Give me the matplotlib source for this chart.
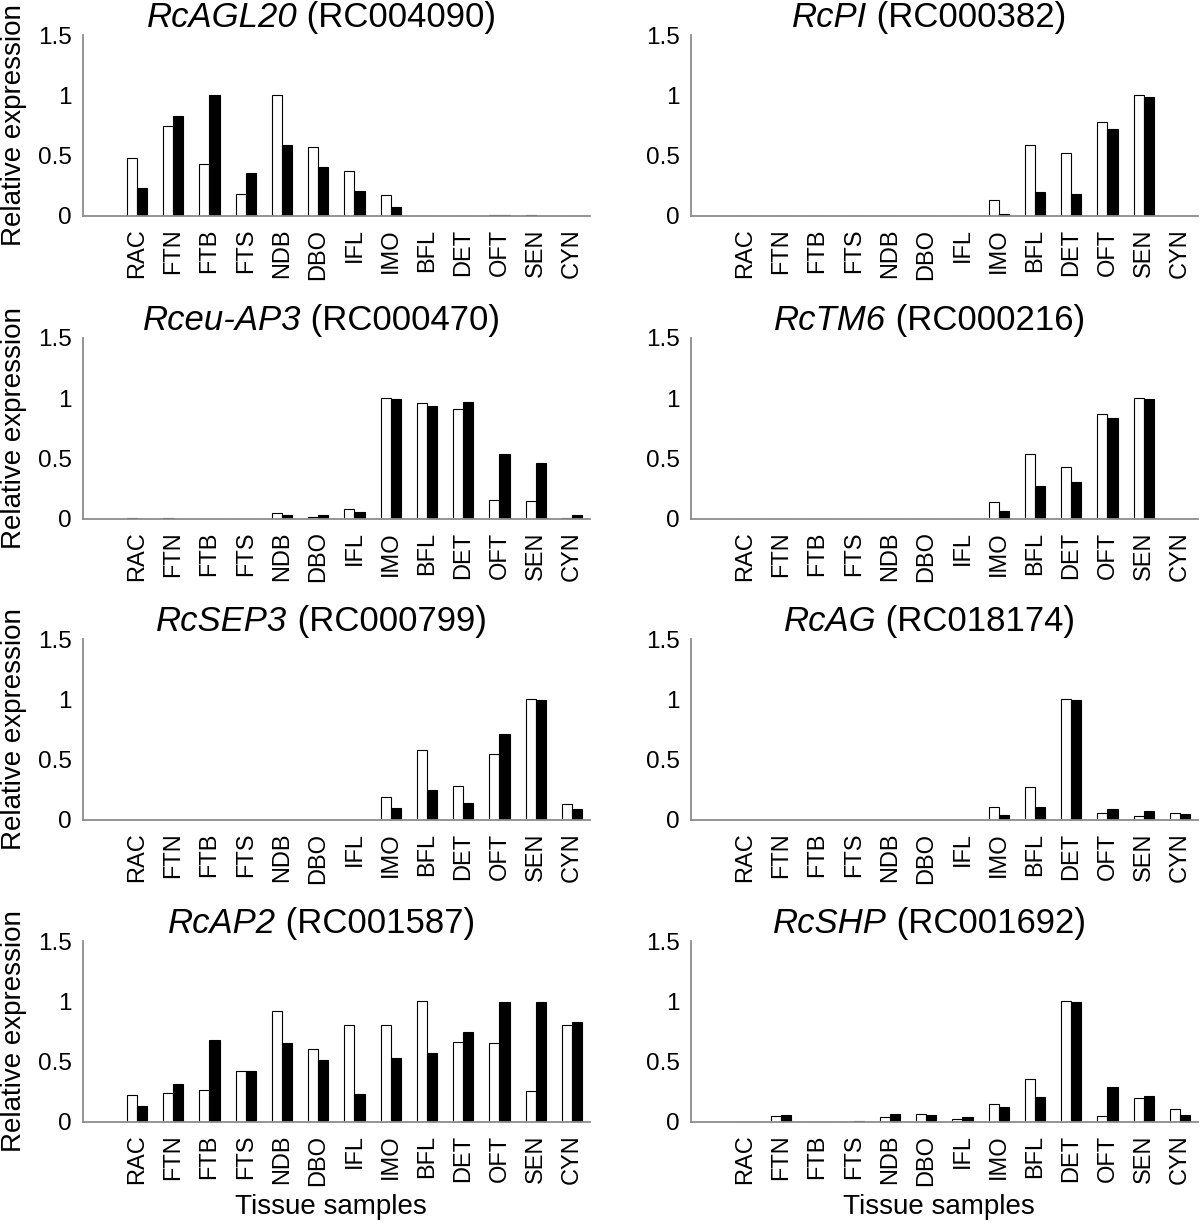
import numpy as np
import matplotlib
matplotlib.use("Agg")
from matplotlib import pyplot as plt
from matplotlib.offsetbox import TextArea, HPacker, AnchoredOffsetbox

plt.rcParams['font.family'] = ['Liberation Sans', 'DejaVu Sans']

tissues = ["RAC", "FTN", "FTB", "FTS", "NDB", "DBO", "IFL",
           "IMO", "BFL", "DET", "OFT", "SEN", "CYN"]

gene_names = ["RcAGL20", "RcPI", "Rceu-AP3", "RcTM6",
              "RcSEP3", "RcAG", "RcAP2", "RcSHP"]
gene_ids = ["RC004090", "RC000382", "RC000470", "RC000216",
            "RC000799", "RC018174", "RC001587", "RC001692"]

# white bars / black bars, one value per tissue
agl20_white = [0.48, 0.75, 0.43, 0.18, 1.0, 0.57, 0.37, 0.17, 0.003, 0.0, 0.01, 0.005, 0.0]
agl20_black = [0.23, 0.83, 1.0, 0.36, 0.59, 0.41, 0.21, 0.075, 0.0, 0.0, 0.012, 0.0, 0.0]

pi_white = [0.0, 0.0, 0.0, 0.0, 0.004, 0.0, 0.004, 0.13, 0.59, 0.52, 0.78, 1.0, 0.004]
pi_black = [0.0, 0.0, 0.0, 0.0, 0.0, 0.0, 0.0, 0.017, 0.2, 0.18, 0.72, 0.99, 0.0]

ap3_white = [0.01, 0.005, 0.0, 0.0, 0.049, 0.016, 0.08, 1.0, 0.96, 0.91, 0.16, 0.146, 0.01]
ap3_black = [0.003, 0.0, 0.0, 0.0, 0.03, 0.033, 0.058, 0.995, 0.937, 0.97, 0.536, 0.462, 0.03]

tm6_white = [0.003, 0.0, 0.0, 0.004, 0.0, 0.0, 0.004, 0.137, 0.541, 0.431, 0.871, 1.0, 0.0]
tm6_black = [0.0, 0.0, 0.0, 0.0, 0.0, 0.0, 0.0, 0.069, 0.275, 0.31, 0.838, 0.997, 0.0]

sep3_white = [0.0, 0.0, 0.0, 0.003, 0.0, 0.0, 0.004, 0.194, 0.579, 0.285, 0.551, 1.0, 0.13]
sep3_black = [0.0, 0.0, 0.0, 0.0, 0.0, 0.0, 0.0, 0.1, 0.249, 0.144, 0.709, 0.997, 0.094]

ag_white = [0.0, 0.0, 0.0, 0.0, 0.0, 0.0, 0.0, 0.111, 0.271, 1.0, 0.058, 0.033, 0.058]
ag_black = [0.0, 0.0, 0.0, 0.0, 0.0, 0.0, 0.0, 0.044, 0.108, 0.997, 0.089, 0.072, 0.05]

ap2_white = [0.225, 0.239, 0.269, 0.419, 0.917, 0.608, 0.803, 0.808, 1.0, 0.667, 0.656, 0.258, 0.8]
ap2_black = [0.133, 0.319, 0.678, 0.419, 0.658, 0.511, 0.236, 0.531, 0.575, 0.747, 0.997, 0.997, 0.831]

shp_white = [0.0, 0.053, 0.0, 0.004, 0.042, 0.067, 0.028, 0.15, 0.356, 1.0, 0.053, 0.197, 0.108]
shp_black = [0.0, 0.056, 0.0, 0.008, 0.069, 0.061, 0.044, 0.125, 0.206, 0.997, 0.286, 0.217, 0.056]

white_sets = [agl20_white, pi_white, ap3_white, tm6_white, sep3_white, ag_white, ap2_white, shp_white]
black_sets = [agl20_black, pi_black, ap3_black, tm6_black, sep3_black, ag_black, ap2_black, shp_black]

W, H = 1200, 1231
col_left = [82.6, 690.6]
col_width = 507.5
row_top = [35, 338, 639, 941]
row_height = 181


def add_title(ax, name, gid):
    # italic gene name followed by upright id, a bit left of the axes centre
    it = TextArea(name, textprops=dict(fontsize=25, fontstyle="italic"))
    rm = TextArea(f" ({gid})", textprops=dict(fontsize=25))
    box = HPacker(children=[it, rm], align="baseline", pad=0, sep=0)
    shift = -15 / col_width
    anchored = AnchoredOffsetbox(loc="lower center", child=box, pad=0, borderpad=0,
                                 frameon=False, bbox_to_anchor=(0.5 + shift, 1.005),
                                 bbox_transform=ax.transAxes)
    ax.add_artist(anchored)


def draw_panel(ax, idx, col, row):
    x = np.arange(len(tissues))
    bw = 0.28
    ax.bar(x - bw / 2, white_sets[idx], bw, color="white", edgecolor="black", linewidth=0.8)
    ax.bar(x + bw / 2, black_sets[idx], bw, color="black", edgecolor="black", linewidth=0.8)
    ax.set_xlim(-1.5, 12.5)
    ax.set_ylim(0, 1.5)
    ax.set_yticks([0, 0.5, 1, 1.5])
    ax.set_yticklabels(["0", "0.5", "1", "1.5"], fontsize=17.5)
    ax.set_xticks(x)
    ax.set_xticklabels(tissues, rotation=90, fontsize=17)
    ax.tick_params(axis="x", length=0, pad=9)
    ax.tick_params(axis="y", length=0, pad=8)
    for side in ["top", "right"]:
        ax.spines[side].set_visible(False)
    for side in ["left", "bottom"]:
        ax.spines[side].set_color("#8c8c8c")
        ax.spines[side].set_linewidth(1.3)
    add_title(ax, gene_names[idx], gene_ids[idx])
    if col == 0:
        ax.set_ylabel("Relative expression", fontsize=20, labelpad=8)
    if row == 3:
        cx = (col_left[col] + col_width / 2 - 5) / W
        fig.text(cx, 1 - 1207 / H, "Tissue samples", fontsize=20, ha="center", va="center")


fig = plt.figure(figsize=(W / 100, H / 100), dpi=100)
for i in range(8):
    row, col = divmod(i, 2)
    left = col_left[col] / W
    bottom = 1 - (row_top[row] + row_height) / H
    ax = fig.add_axes([left, bottom, col_width / W, row_height / H])
    draw_panel(ax, i, col, row)

plt.savefig("out.png", dpi=100, facecolor="white")
plt.close()
